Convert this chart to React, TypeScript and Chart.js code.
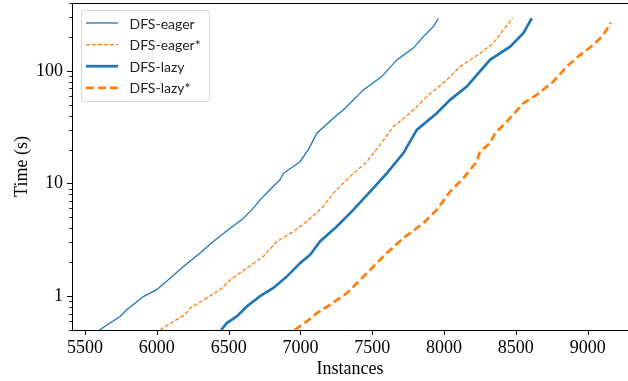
import React, { useEffect, useRef } from "react";
import { Chart, registerables } from "chart.js";

Chart.register(...registerables);

// ---- data (instances solved vs. time in seconds) ----
const eagerX = [5600, 5674, 5744, 5790, 5906, 5999, 6092, 6185, 6301, 6393, 6510, 6591, 6661, 6719, 6788, 6858, 6881, 6997, 7060, 7114, 7229, 7311, 7438, 7566, 7671, 7786, 7856, 7926, 7960];
const eagerY = [0.5, 0.576, 0.659, 0.756, 0.99, 1.14, 1.44, 1.83, 2.41, 3.05, 4.01, 4.75, 5.83, 7.15, 8.78, 10.8, 12.3, 15.6, 20.5, 27.9, 38.0, 46.6, 67.7, 88.8, 125, 159, 201, 247, 293];

const eagerStarX = [6022, 6115, 6196, 6231, 6347, 6440, 6510, 6626, 6742, 6835, 6951, 7044, 7159, 7229, 7345, 7462, 7554, 7647, 7763, 7880, 8019, 8111, 8251, 8343, 8413, 8478];
const eagerStarY = [0.5, 0.595, 0.683, 0.782, 0.96, 1.14, 1.39, 1.77, 2.25, 3.05, 3.74, 4.59, 6.24, 8.2, 11.5, 15.6, 22.0, 32.0, 42.0, 59.0, 83.0, 109, 143, 176, 231, 293];

const lazyX = [6447, 6487, 6556, 6626, 6719, 6811, 6905, 6997, 7067, 7136, 7253, 7368, 7485, 7601, 7717, 7810, 7949, 8042, 8158, 8320, 8460, 8552, 8611];
const lazyY = [0.5, 0.576, 0.659, 0.809, 1.0, 1.18, 1.49, 1.96, 2.33, 3.05, 4.15, 5.83, 8.47, 12.3, 18.6, 29.9, 42.0, 55.2, 72.4, 125, 164, 216, 293];

const lazyStarX = [6960, 7044, 7114, 7206, 7322, 7415, 7508, 7601, 7717, 7856, 7949, 8042, 8134, 8227, 8250, 8320, 8355, 8437, 8552, 8645, 8761, 8854, 8947, 9040, 9109, 9161];
const lazyStarY = [0.5, 0.595, 0.707, 0.837, 1.06, 1.39, 1.83, 2.41, 3.27, 4.44, 5.83, 8.47, 11.1, 15.6, 19.2, 22.8, 27.9, 35.4, 51.6, 61.1, 80.2, 109, 138, 170, 208, 268];

const seriesNames = ["DFS-eager", "DFS-eager*", "DFS-lazy", "DFS-lazy*"];

const xTicks = [5500, 6000, 6500, 7000, 7500, 8000, 8500, 9000];
const yMajorTicks = [1, 10, 100];
const yMinorTicks = [0.5, 0.6, 0.7, 0.8, 0.9, 2, 3, 4, 5, 6, 7, 8, 9, 20, 30, 40, 50, 60, 70, 80, 90, 200, 300, 400];

const X_MIN = 5409;
const X_MAX = 9281;
const Y_MIN = 0.5;
const Y_MAX = 400;

const BLUE = "#1f77b4";
const ORANGE = "#ff7f0e";
const SERIF = "'Liberation Serif', 'DejaVu Serif', serif";
const SANS = "Lato, 'DejaVu Sans', sans-serif";

const toPoints = (xs: number[], ys: number[]) => xs.map((x, i) => ({ x, y: ys[i] }));

const axesPlugin = {
  id: "axesDecor",
  afterDraw(chart: any) {
    const { ctx, chartArea } = chart;
    const xs = chart.scales.x;
    const ys = chart.scales.y;
    ctx.save();
    ctx.strokeStyle = "#000";
    ctx.lineWidth = 1;
    // spines
    ctx.beginPath();
    ctx.moveTo(chartArea.left + 0.5, chartArea.top);
    ctx.lineTo(chartArea.left + 0.5, chartArea.bottom + 0.5);
    ctx.lineTo(chartArea.right, chartArea.bottom + 0.5);
    ctx.moveTo(chartArea.left, chartArea.top + 0.5);
    ctx.lineTo(chartArea.right, chartArea.top + 0.5);
    ctx.stroke();
    // x ticks
    ctx.beginPath();
    for (const v of xTicks) {
      const px = Math.round(xs.getPixelForValue(v)) + 0.5;
      ctx.moveTo(px, chartArea.bottom);
      ctx.lineTo(px, chartArea.bottom + 5);
    }
    // y major ticks
    for (const v of yMajorTicks) {
      const py = Math.round(ys.getPixelForValue(v)) + 0.5;
      ctx.moveTo(chartArea.left, py);
      ctx.lineTo(chartArea.left - 5, py);
    }
    ctx.stroke();
    ctx.beginPath();
    ctx.lineWidth = 0.8;
    for (const v of yMinorTicks) {
      const py = Math.round(ys.getPixelForValue(v)) + 0.5;
      ctx.moveTo(chartArea.left, py);
      ctx.lineTo(chartArea.left - 3, py);
    }
    ctx.stroke();

    // legend
    const bx = chartArea.left + 9.5;
    const by = chartArea.top + 7.5;
    const bw = 128;
    const bh = 91;
    ctx.beginPath();
    if ((ctx as any).roundRect) (ctx as any).roundRect(bx, by, bw, bh, 3);
    else ctx.rect(bx, by, bw, bh);
    ctx.fillStyle = "rgba(255,255,255,0.8)";
    ctx.fill();
    ctx.strokeStyle = "#d6d6d6";
    ctx.lineWidth = 1;
    ctx.stroke();
    const dsets = chart.data.datasets;
    ctx.font = `14px ${SANS}`;
    ctx.textBaseline = "middle";
    ctx.textAlign = "left";
    dsets.forEach((ds: any, i: number) => {
      const ry = by + 12.5 + i * 21.6;
      ctx.save();
      ctx.strokeStyle = ds.borderColor;
      ctx.lineWidth = ds.borderWidth;
      ctx.setLineDash(ds.borderDash || []);
      ctx.lineCap = "butt";
      ctx.beginPath();
      ctx.moveTo(bx + 4.5, ry);
      ctx.lineTo(bx + 36.5, ry);
      ctx.stroke();
      ctx.restore();
      ctx.fillStyle = "#222";
      ctx.fillText(ds.label, bx + 48, ry + 1);
    });
    ctx.restore();
  },
};

export default function App() {
  const canvasRef = useRef<HTMLCanvasElement | null>(null);

  useEffect(() => {
    if (!canvasRef.current) return;
    const chart = new Chart(canvasRef.current, {
      type: "line",
      data: {
        datasets: [
          {
            label: seriesNames[0],
            data: toPoints(eagerX, eagerY),
            borderColor: BLUE,
            borderWidth: 1.3,
            pointRadius: 0,
            tension: 0,
          },
          {
            label: seriesNames[1],
            data: toPoints(eagerStarX, eagerStarY),
            borderColor: ORANGE,
            borderWidth: 1.3,
            borderDash: [4, 2],
            pointRadius: 0,
            tension: 0,
          },
          {
            label: seriesNames[2],
            data: toPoints(lazyX, lazyY),
            borderColor: BLUE,
            borderWidth: 2.7,
            pointRadius: 0,
            tension: 0,
          },
          {
            label: seriesNames[3],
            data: toPoints(lazyStarX, lazyStarY),
            borderColor: ORANGE,
            borderWidth: 2.7,
            borderDash: [8, 4],
            pointRadius: 0,
            tension: 0,
          },
        ],
      },
      options: {
        responsive: false,
        animation: false,
        events: [],
        layout: { padding: { top: 3, right: 0, bottom: 0, left: 0 } },
        plugins: {
          legend: { display: false },
          tooltip: { enabled: false },
        },
        scales: {
          x: {
            type: "linear",
            min: X_MIN,
            max: X_MAX,
            afterBuildTicks: (scale: any) => {
              scale.ticks = xTicks.map((v) => ({ value: v }));
            },
            afterFit: (scale: any) => {
              scale.height = 51;
              scale.paddingLeft = 0;
              scale.paddingRight = 0;
            },
            grid: { display: false, drawTicks: false },
            border: { display: false },
            ticks: {
              autoSkip: false,
              maxRotation: 0,
              padding: 7,
              color: "#000",
              font: { family: SERIF, size: 18 },
              callback: (v: any) => String(v),
            },
            title: {
              display: true,
              text: "Instances",
              color: "#000",
              font: { family: SERIF, size: 18 },
              padding: { top: 0, bottom: 1 },
            },
          },
          y: {
            type: "logarithmic",
            min: Y_MIN,
            max: Y_MAX,
            afterBuildTicks: (scale: any) => {
              scale.ticks = yMajorTicks.map((v) => ({ value: v }));
            },
            afterFit: (scale: any) => {
              scale.width = 72;
              scale.paddingTop = 0;
              scale.paddingBottom = 0;
            },
            grid: { display: false, drawTicks: false },
            border: { display: false },
            ticks: {
              autoSkip: false,
              padding: 9,
              color: "#000",
              font: { family: SERIF, size: 18 },
              callback: (v: any) => String(v),
            },
            title: {
              display: true,
              text: "Time (s)",
              color: "#000",
              font: { family: SERIF, size: 18 },
              padding: { top: 11, bottom: 0 },
            },
          },
        },
      },
      plugins: [axesPlugin],
    });
    return () => chart.destroy();
  }, []);

  return (
    <div style={{ position: "fixed", left: 0, top: 0, width: 628, height: 381, background: "#fff" }}>
      <canvas ref={canvasRef} width={628} height={381} style={{ width: 628, height: 381, display: "block" }} />
    </div>
  );
}
